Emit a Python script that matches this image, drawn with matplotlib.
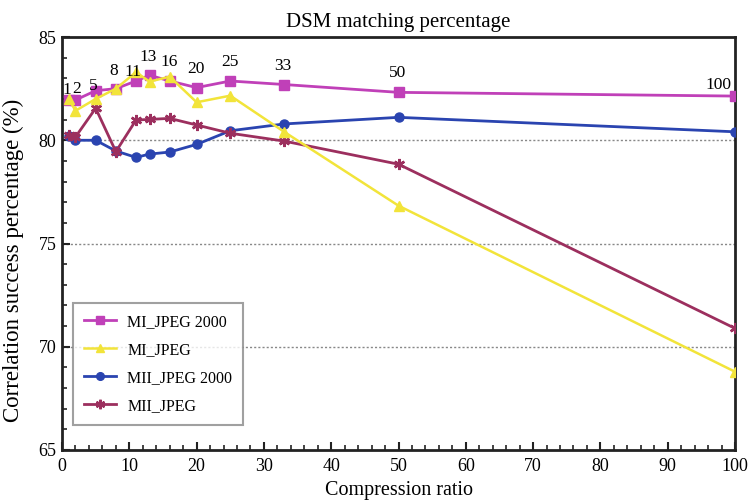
import matplotlib
matplotlib.use("Agg")
import matplotlib.pyplot as plt
from matplotlib.ticker import MultipleLocator

plt.rcParams['font.family'] = ['Liberation Serif', 'DejaVu Serif']

ratios = [1, 2, 5, 8, 11, 13, 16, 20, 25, 33, 50, 100]
mi_jpeg2000 = [81.95, 81.95, 82.4, 82.5, 82.87, 83.15, 82.87, 82.55, 82.87, 82.7, 82.32, 82.14]
mi_jpeg = [82.0, 81.43, 82.0, 82.5, 83.3, 82.84, 83.08, 81.84, 82.16, 80.41, 76.83, 68.79]
mii_jpeg2000 = [80.22, 80.0, 80.0, 79.48, 79.17, 79.33, 79.43, 79.8, 80.46, 80.79, 81.11, 80.41]
mii_jpeg = [80.25, 80.16, 81.55, 79.45, 80.98, 81.01, 81.06, 80.74, 80.34, 79.96, 78.84, 70.89]
point_labels = ["1", "2", "5", "8", "11", "13", "16", "20", "25", "33", "50", "100"]
label_offsets_px = [(-2, 10), (1, 11), (-2, 5), (-2, 18), (-3, 9), (-1, 18), (-1, 19),
                    (-1, 19), (0, 19), (-1, 19), (-1, 19), (-17, 11)]

fig = plt.figure(figsize=(7.51, 5.03), dpi=100)
ax = fig.add_axes([0.0826, 0.1054, 0.8961, 0.821])

c_mag = '#C040B8'
c_yel = '#F2E43A'
c_blu = '#2A44B0'
c_red = '#9C2F5E'

ax.plot(ratios, mii_jpeg2000, color=c_blu, marker='o', ms=6.5, lw=2.0, label='MII_JPEG 2000', zorder=3)
ax.plot(ratios, mii_jpeg, color=c_red, marker=(6, 2, 0), ms=8, mew=1.8, lw=2.0, label='MII_JPEG', zorder=3)
ax.plot(ratios, mi_jpeg2000, color=c_mag, marker='s', ms=7, lw=2.0, label='MI_JPEG 2000', zorder=4)
ax.plot(ratios, mi_jpeg, color=c_yel, marker='^', ms=7.5, lw=1.8, label='MI_JPEG', zorder=5)

for x, y, t, (dx, dy) in zip(ratios, mi_jpeg2000, point_labels, label_offsets_px):
    ax.annotate(t, xy=(x, y), xytext=(dx * 0.72, dy * 0.72), textcoords='offset points',
                ha='center', va='center', fontsize=12.5, color='black', zorder=6)

ax.set_xlim(0, 100)
ax.set_ylim(65, 85)
ax.xaxis.set_major_locator(MultipleLocator(10))
ax.xaxis.set_minor_locator(MultipleLocator(2))
ax.yaxis.set_major_locator(MultipleLocator(5))
ax.yaxis.set_minor_locator(MultipleLocator(1))
ax.tick_params(which='both', direction='in', labelsize=13, color='#222222')
ax.tick_params(which='major', length=6, width=1.5)
ax.tick_params(which='minor', length=3.5, width=1.2)
ax.tick_params(axis='y', which='both', left=True, right=False, pad=4)
ax.tick_params(axis='x', which='both', top=False, pad=6)

for yv in [70, 75, 80]:
    ax.axhline(yv, color='#888888', lw=1.0, ls=(0, (1.5, 1.5)), zorder=1)

for s in ax.spines.values():
    s.set_linewidth(2.0)
    s.set_color('#222222')

ax.set_title('DSM matching percentage', fontsize=15, pad=7)
ax.set_xlabel('Compression ratio', fontsize=14.5, labelpad=4)
ax.set_ylabel('Correlation success percentage (%)', fontsize=16.5)
ax.yaxis.set_label_coords(-0.057, 0.46)

h, l = ax.get_legend_handles_labels()
order = [l.index(n) for n in ['MI_JPEG 2000', 'MI_JPEG', 'MII_JPEG 2000', 'MII_JPEG']]
leg = ax.legend([h[i] for i in order], [l[i] for i in order], loc='lower left',
                bbox_to_anchor=(0.016, 0.06), fontsize=11.5, frameon=True, fancybox=False,
                edgecolor='#888888', labelspacing=0.75, handlelength=2.0, borderpad=0.7,
                borderaxespad=0, markerscale=0.85, handletextpad=0.7)
leg.get_frame().set_linewidth(1.5)

fig.savefig('out.png', dpi=100)
